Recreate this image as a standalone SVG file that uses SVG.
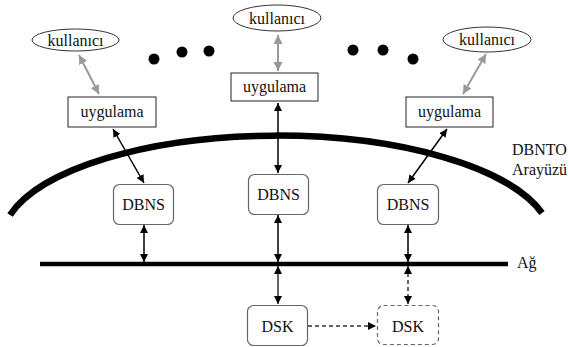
<svg xmlns="http://www.w3.org/2000/svg" width="569" height="347" viewBox="0 0 569 347">
  <defs>
    <marker id="ah" viewBox="0 0 10 10" refX="10" refY="5" markerWidth="8" markerHeight="8" markerUnits="userSpaceOnUse" orient="auto-start-reverse">
      <path d="M0,0 L10,5 L0,10 z" fill="#000"/>
    </marker>
    <marker id="ahg" viewBox="0 0 10 10" refX="10" refY="5" markerWidth="9" markerHeight="9" markerUnits="userSpaceOnUse" orient="auto-start-reverse">
      <path d="M0,0 L10,5 L0,10 z" fill="#999"/>
    </marker>
  </defs>
  <rect width="569" height="347" fill="#fff"/>

  <!-- interface arc and network line -->
  <path d="M 10 215 A 275 105 0 0 1 542 213" fill="none" stroke="#000" stroke-width="6.5"/>
  <line x1="40" y1="264" x2="508" y2="264" stroke="#000" stroke-width="4.5"/>
  <g font-family="Liberation Serif" font-size="16" fill="#111">
    <text x="512" y="155">DBNTO</text>
    <text x="512" y="175">Arayüzü</text>
    <text x="517" y="268">Ağ</text>
  </g>

  <!-- ellipsis dots -->
  <g fill="#000">
    <circle cx="154" cy="59" r="5.5"/>
    <circle cx="182" cy="52" r="5.5"/>
    <circle cx="209" cy="51" r="5.5"/>
    <circle cx="353" cy="50" r="5.5"/>
    <circle cx="383" cy="50" r="5.5"/>
    <circle cx="413" cy="59" r="5.5"/>
  </g>

  <!-- connectors -->
  <g id="connectors" fill="none">
    <g stroke="#999" stroke-width="2" marker-start="url(#ahg)" marker-end="url(#ahg)">
      <line x1="79" y1="55" x2="99" y2="94"/>
      <line x1="278" y1="35" x2="278" y2="71"/>
      <line x1="486" y1="54" x2="463" y2="94"/>
    </g>
    <g stroke="#000" stroke-width="1.5" marker-start="url(#ah)" marker-end="url(#ah)">
      <line x1="113" y1="129" x2="144" y2="183"/>
      <line x1="278" y1="103" x2="278" y2="173"/>
      <line x1="447" y1="129" x2="408" y2="183"/>
      <line x1="144" y1="225" x2="144" y2="262"/>
      <line x1="278" y1="215" x2="278" y2="262"/>
      <line x1="408" y1="225" x2="408" y2="262"/>
      <line x1="278" y1="266" x2="278" y2="304" stroke="#333"/>
      <line x1="408" y1="266" x2="408" y2="304" stroke="#333" stroke-dasharray="4 3"/>
    </g>
    <line x1="308" y1="326" x2="376" y2="326" stroke="#333" stroke-width="1.5" stroke-dasharray="4 3" marker-end="url(#ah)"/>
  </g>

  <g font-family="Liberation Serif" font-size="16" text-anchor="middle">
    <!-- users -->
    <g id="user-left">
      <ellipse cx="75.5" cy="40" rx="43.5" ry="11" fill="#fff" stroke="#333"/>
      <text x="75.5" y="45.5" fill="#111">kullanıcı</text>
    </g>
    <g id="user-mid">
      <ellipse cx="277" cy="18" rx="44" ry="13" fill="#fff" stroke="#333"/>
      <text x="277" y="23.5" fill="#111">kullanıcı</text>
    </g>
    <g id="user-right">
      <ellipse cx="487" cy="39.5" rx="44" ry="12.5" fill="#fff" stroke="#333"/>
      <text x="487" y="45" fill="#111">kullanıcı</text>
    </g>

    <!-- applications -->
    <g id="app-left">
      <rect x="68" y="97" width="88" height="30" fill="#fff" stroke="#222"/>
      <text x="112" y="117" fill="#111">uygulama</text>
    </g>
    <g id="app-mid">
      <rect x="231" y="73" width="87" height="28" fill="#fff" stroke="#222"/>
      <text x="274.5" y="92" fill="#111">uygulama</text>
    </g>
    <g id="app-right">
      <rect x="406" y="97" width="87" height="30" fill="#fff" stroke="#222"/>
      <text x="449.5" y="117" fill="#111">uygulama</text>
    </g>

    <!-- name servers -->
    <g id="dbns-left">
      <rect x="113.5" y="184.5" width="60" height="40" rx="6" fill="#fff" stroke="#666" stroke-width="1.2"/>
      <text x="143.5" y="210" fill="#111">DBNS</text>
    </g>
    <g id="dbns-mid">
      <rect x="248.5" y="174.5" width="60" height="40" rx="6" fill="#fff" stroke="#666" stroke-width="1.2"/>
      <text x="278.5" y="200" fill="#111">DBNS</text>
    </g>
    <g id="dbns-right">
      <rect x="377.5" y="184.5" width="61" height="40" rx="6" fill="#fff" stroke="#666" stroke-width="1.2"/>
      <text x="408" y="210" fill="#111">DBNS</text>
    </g>

    <!-- storage -->
    <g id="dsk-mid">
      <rect x="247.5" y="305.5" width="60" height="40" rx="6" fill="#fff" stroke="#666" stroke-width="1.2"/>
      <text x="277.5" y="331.5" fill="#111">DSK</text>
    </g>
    <g id="dsk-right">
      <rect x="377.5" y="305.5" width="61" height="39" rx="6" fill="#fff" stroke="#666" stroke-width="1.2" stroke-dasharray="4 3"/>
      <text x="408" y="331.5" fill="#111">DSK</text>
    </g>
  </g>
</svg>
